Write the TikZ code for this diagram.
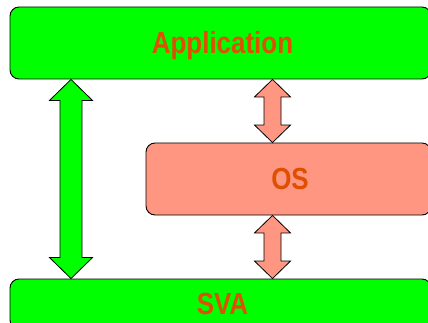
\documentclass[tikz,border=0pt]{standalone}
\usepackage{fontspec}
\newfontfamily\lblfont[FakeStretch=0.85]{Liberation Sans}
\usetikzlibrary{calc}
\definecolor{layergreen}{RGB}{0,255,0}
\definecolor{layersalmon}{RGB}{255,150,130}
\definecolor{labelorange}{RGB}{222,80,0}
\tikzset{
  layer/.style={draw=black, line width=0.9pt, rounded corners=9pt,
    minimum height=72pt, inner sep=0pt,
    font=\lblfont\bfseries\fontsize{30.5}{30.5}\selectfont,
    text=labelorange, text height=21.8pt, text depth=0pt},
  blockarrow/.style={draw=black, line width=0.8pt, line join=miter}
}
% vertical double-headed block arrow between two points on a common x
% #1 style, #2 top tip, #3 bottom tip, #4 shaft half width, #5 head half width, #6 head length
\newcommand\dblblockarrow[6]{%
  \draw[blockarrow,#1] let \p1=(#2), \p2=(#3) in
    (\x1,\y1) -- (\x1+#5,\y1-#6) -- (\x1+#4,\y1-#6) -- (\x1+#4,\y2+#6)
    -- (\x1+#5,\y2+#6) -- (\x2,\y2) -- (\x1-#5,\y2+#6) -- (\x1-#4,\y2+#6)
    -- (\x1-#4,\y1-#6) -- (\x1-#5,\y1-#6) -- cycle;}
\begin{document}
\begin{tikzpicture}[x=1pt,y=-1pt]
  \useasboundingbox (0,0) rectangle (428,323);
  \clip (0,0) rectangle (428,323);
  \node[layer, fill=layergreen, minimum width=421pt, text width=421pt, align=center] (app) at (220.5,43) {\hspace*{4pt}Application};
  \node[layer, fill=layersalmon, minimum width=285pt, text width=285pt, align=center] (os) at (288.5,179) {\hspace*{3pt}OS};
  \node[layer, fill=layergreen, minimum width=421pt, text width=421pt, align=center, minimum height=50pt] (sva) at (220.5,304) {\hspace*{4pt}SVA};
  % connectors
  \coordinate (gtop) at (app.south -| 71,0);
  \coordinate (gbot) at (sva.north -| 71,0);
  \coordinate (s1top) at (app.south -| 272.5,0);
  \coordinate (s1bot) at (os.north -| 272.5,0);
  \coordinate (s2top) at (os.south -| 272.5,0);
  \coordinate (s2bot) at (sva.north -| 272.5,0);
  \dblblockarrow{fill=layergreen}{gtop}{gbot}{11pt}{21.5pt}{21pt}
  \dblblockarrow{fill=layersalmon}{s1top}{s1bot}{8.5pt}{18pt}{17.5pt}
  \dblblockarrow{fill=layersalmon}{s2top}{s2bot}{8.5pt}{18pt}{17.5pt}
\end{tikzpicture}
\end{document}
